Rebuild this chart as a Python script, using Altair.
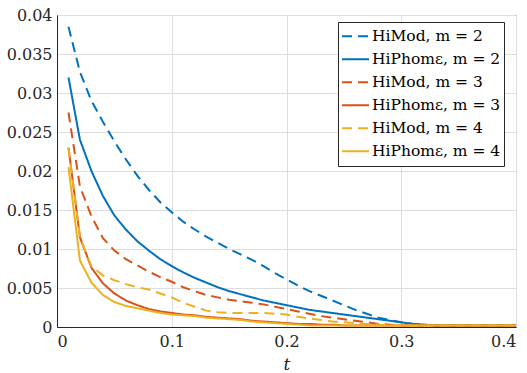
import altair as alt
import pandas as pd

t = [0.01, 0.02, 0.03, 0.04, 0.05, 0.06, 0.07, 0.08, 0.09, 0.10,
     0.11, 0.12, 0.13, 0.14, 0.15, 0.16, 0.17, 0.18, 0.19, 0.20,
     0.21, 0.22, 0.23, 0.24, 0.25, 0.26, 0.27, 0.28, 0.29, 0.30,
     0.31, 0.32, 0.33, 0.34, 0.35, 0.36, 0.37, 0.38, 0.39, 0.40]

himod_m2 = [0.0385, 0.0327, 0.0290, 0.0263, 0.0238, 0.0215, 0.0194, 0.0176, 0.0160, 0.0147,
            0.0135, 0.0125, 0.0116, 0.0108, 0.0100, 0.0093, 0.0086, 0.0078, 0.0069, 0.0061,
            0.0053, 0.0046, 0.0040, 0.0034, 0.0028, 0.0022, 0.0017, 0.0012, 0.0009, 0.0006,
            0.0004, 0.0003, 0.0002, 0.0002, 0.0002, 0.0002, 0.0002, 0.0002, 0.0002, 0.0002]
hiphom_m2 = [0.0320, 0.0240, 0.0200, 0.0168, 0.0143, 0.0125, 0.0110, 0.0098, 0.0087, 0.0078,
             0.0070, 0.0063, 0.0057, 0.0051, 0.0046, 0.0042, 0.0038, 0.0034, 0.0031, 0.0028,
             0.0025, 0.0022, 0.0020, 0.0018, 0.0016, 0.0014, 0.0012, 0.0010, 0.0008, 0.0006,
             0.0004, 0.0003, 0.0002, 0.0002, 0.0002, 0.0002, 0.0002, 0.0002, 0.0002, 0.0002]
himod_m3 = [0.0275, 0.0180, 0.0142, 0.0114, 0.0098, 0.0087, 0.0079, 0.0071, 0.0064, 0.0058,
            0.0051, 0.0046, 0.0041, 0.0038, 0.0035, 0.0033, 0.0031, 0.0029, 0.0026, 0.0023,
            0.0020, 0.0017, 0.0014, 0.0012, 0.0010, 0.0008, 0.0006, 0.0004, 0.0003, 0.0002,
            0.0002, 0.0002, 0.0002, 0.0002, 0.0002, 0.0002, 0.0002, 0.0002, 0.0002, 0.0002]
hiphom_m3 = [0.0230, 0.0115, 0.0076, 0.0056, 0.0043, 0.0034, 0.0028, 0.0023, 0.0020, 0.0018,
             0.0016, 0.0015, 0.0013, 0.0012, 0.0011, 0.0010, 0.0008, 0.0007, 0.0006, 0.0005,
             0.0004, 0.0004, 0.0003, 0.0003, 0.0002, 0.0002, 0.0002, 0.0002, 0.0002, 0.0002,
             0.0002, 0.0002, 0.0002, 0.0002, 0.0002, 0.0002, 0.0002, 0.0002, 0.0002, 0.0002]
himod_m4 = [0.0230, 0.0115, 0.0078, 0.0066, 0.0060, 0.0055, 0.0051, 0.0048, 0.0043, 0.0038,
            0.0031, 0.0026, 0.0021, 0.0019, 0.0018, 0.0018, 0.0018, 0.0018, 0.0017, 0.0016,
            0.0013, 0.0011, 0.0009, 0.0007, 0.0006, 0.0005, 0.0004, 0.0003, 0.0002, 0.0002,
            0.0002, 0.0002, 0.0002, 0.0002, 0.0002, 0.0002, 0.0002, 0.0002, 0.0002, 0.0002]
hiphom_m4 = [0.0205, 0.0085, 0.0057, 0.0041, 0.0032, 0.0027, 0.0024, 0.0021, 0.0018, 0.0016,
             0.0015, 0.0014, 0.0012, 0.0011, 0.0010, 0.0009, 0.0007, 0.0006, 0.0005, 0.0004,
             0.0003, 0.0002, 0.0002, 0.0002, 0.0002, 0.0002, 0.0002, 0.0002, 0.0002, 0.0002,
             0.0002, 0.0002, 0.0002, 0.0002, 0.0002, 0.0002, 0.0002, 0.0002, 0.0002, 0.0002]

series_names = ["HiMod, m = 2", "HiPhomε, m = 2", "HiMod, m = 3",
                "HiPhomε, m = 3", "HiMod, m = 4", "HiPhomε, m = 4"]
series_values = [himod_m2, hiphom_m2, himod_m3, hiphom_m3, himod_m4, hiphom_m4]
colors = ["#0072BD", "#0072BD", "#D95319", "#D95319", "#EDB120", "#EDB120"]
dashes = [[10, 6], [1, 0], [10, 6], [1, 0], [10, 6], [1, 0]]

rows = []
for i, (name, vals) in enumerate(zip(series_names, series_values)):
    for tt, v in zip(t, vals):
        rows.append({"t": tt, "err": v, "series": name, "order": i})
df = pd.DataFrame(rows)

font = "DejaVu Serif"
fs = 16

chart = alt.Chart(df).mark_line(strokeWidth=2, clip=True).encode(
    x=alt.X("t:Q", scale=alt.Scale(domain=[0, 0.4], nice=False),
            axis=alt.Axis(values=[0, 0.1, 0.2, 0.3, 0.4], format="~g", title="t",
                          labelFont=font, labelFontSize=fs, labelColor="#262626",
                          labelPadding=6, ticks=False,
                          titleFontStyle="italic", titleFont=font, titleFontSize=17,
                          titleFontWeight="normal", titlePadding=7, titleColor="#262626")),
    y=alt.Y("err:Q", scale=alt.Scale(domain=[0, 0.04], nice=False),
            axis=alt.Axis(values=[0, 0.005, 0.01, 0.015, 0.02, 0.025, 0.03, 0.035, 0.04],
                          format="~g", title=None,
                          labelFont=font, labelFontSize=fs, labelColor="#262626",
                          labelPadding=5, ticks=False)),
    color=alt.Color("series:N", scale=alt.Scale(domain=series_names, range=colors),
                    legend=alt.Legend(title=None, orient="none", legendX=281, legendY=7,
                                      symbolType="stroke", symbolStrokeWidth=2,
                                      symbolSize=729, clipHeight=22.6, rowPadding=0,
                                      labelFont=font, labelFontSize=15.5, labelColor="#000000",
                                      labelOffset=2, labelLimit=300,
                                      fillColor="white", strokeColor="#262626",
                                      padding=3)),
    strokeDash=alt.StrokeDash("series:N", scale=alt.Scale(domain=series_names, range=dashes),
                              legend=None),
    detail="series:N",
    order="t:Q",
).properties(
    width=459, height=312,
    autosize=alt.AutoSizeParams(type="none"),
    padding={"left": 57, "top": 15, "right": 11, "bottom": 46},
).configure_axis(
    grid=True, gridColor="#dedede", gridWidth=1,
    domainColor="#262626", domainWidth=1,
).configure_view(
    stroke="#262626", strokeWidth=1,
)

chart.save("out.html", embed_options={"renderer": "svg", "actions": False})
